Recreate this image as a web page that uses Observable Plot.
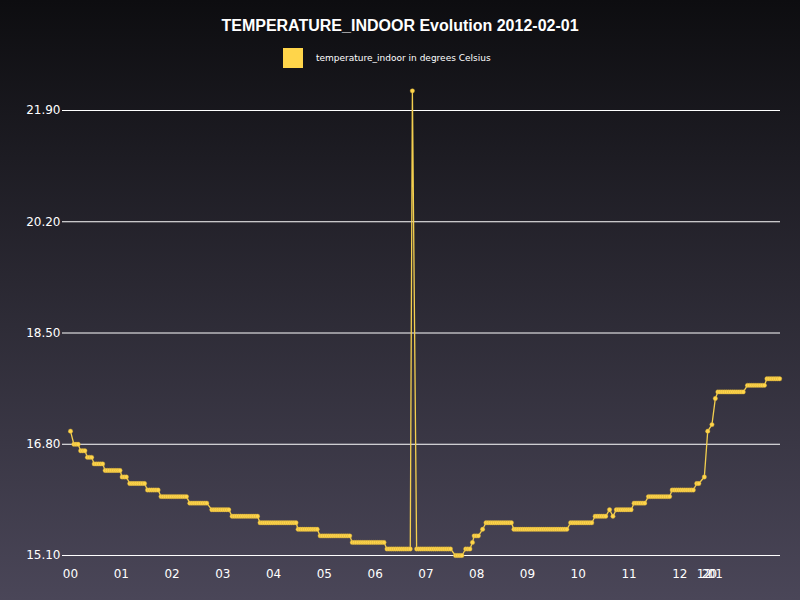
<!DOCTYPE html>
<html>
<head>
<meta charset="utf-8">
<script src="https://cdn.jsdelivr.net/npm/d3@7"></script>
<script src="https://cdn.jsdelivr.net/npm/@observablehq/plot@0.6"></script>
<style>
  body { margin: 0; }
  #chart { position: relative; width: 800px; height: 600px; overflow: hidden;
    background: linear-gradient(#0d0d10, #4a4658); font-family: "Liberation Sans", Arial, sans-serif; }
  #chart svg { position: absolute; left: 0; top: 0; background: none; }
  .title { position: absolute; top: 17px; width: 800px; text-align: center; color: white; font-weight: bold; font-size: 16px; }
  .legend { position: absolute; top: 48px; left: 283px; display: flex; align-items: center; color: white; font-size: 9px; font-family: "DejaVu Sans", sans-serif; }
  .legend span.sw { width: 20px; height: 20px; background: #ffd54a; margin-right: 13px; }
</style>
</head>
<body>
<div id="chart">
  <div class="title">TEMPERATURE_INDOOR Evolution 2012-02-01</div>
  <div class="legend"><span class="sw"></span>temperature_indoor in degrees Celsius</div>
</div>
<script>
// runs of equal readings: start minute, end minute, temperature
const runStart = [0, 4, 12, 20, 28, 41, 61, 70, 91, 107, 141, 167, 191, 224, 269, 295, 333, 374, 404, 409, 455, 467, 475, 477, 487, 491, 524, 591, 620, 637, 641, 645, 666, 683, 711, 740, 749, 753, 758, 762, 765, 800, 823];
const runEnd   = [0, 9, 18, 26, 39, 60, 68, 89, 105, 139, 163, 189, 222, 268, 293, 330, 372, 402, 404, 451, 463, 472, 475, 482, 487, 522, 588, 618, 634, 637, 641, 664, 680, 709, 738, 744, 749, 753, 758, 762, 797, 821, 839];
const runTemp  = [17.0, 16.8, 16.7, 16.6, 16.5, 16.4, 16.3, 16.2, 16.1, 16.0, 15.9, 15.8, 15.7, 15.6, 15.5, 15.4, 15.3, 15.2, 22.2, 15.2, 15.1, 15.2, 15.3, 15.4, 15.5, 15.6, 15.5, 15.6, 15.7, 15.8, 15.7, 15.8, 15.9, 16.0, 16.1, 16.2, 16.3, 17.0, 17.1, 17.5, 17.6, 17.7, 17.8];
const readingStep = 2.5; // minutes between readings
const yTicks = [15.1, 16.8, 18.5, 20.2, 21.9];
const xTicks = [0, 60, 120, 180, 240, 300, 360, 420, 480, 540, 600, 660, 720, 749, 755, 762];
const xLabels = ["00", "01", "02", "03", "04", "05", "06", "07", "08", "09", "10", "11", "12", "12", "20", "01"];

const data = [];
runStart.forEach((s, i) => {
  for (let m = s; m <= runEnd[i] + 0.01; m += readingStep) data.push({minute: m, temp: runTemp[i]});
});

const chart = Plot.plot({
  width: 800,
  height: 600,
  marginLeft: 70,
  marginRight: 20,
  marginTop: 110,
  marginBottom: 45,
  style: {background: "none", color: "white", fontFamily: "DejaVu Sans, sans-serif", fontSize: "12px"},
  x: {domain: [0, 839], ticks: xTicks, tickFormat: (d, i) => xLabels[i], tickSize: 0, tickPadding: 14, label: null},
  y: {domain: [15.1, 21.9], ticks: yTicks, tickFormat: d3.format(".2f"), tickSize: 0, tickPadding: 10, label: null},
  marks: [
    Plot.ruleY(yTicks, {stroke: "white", strokeWidth: 1, strokeOpacity: 1, insetLeft: -8}),
    Plot.line(data, {x: "minute", y: "temp", stroke: "#f3cf4f", strokeWidth: 1.3}),
    Plot.dot(data, {x: "minute", y: "temp", r: 2.2, fill: "#ffd54a", stroke: "#c9a53a", strokeWidth: 0.4})
  ]
});

d3.select("#chart").append(() => chart);
</script>
</body>
</html>
